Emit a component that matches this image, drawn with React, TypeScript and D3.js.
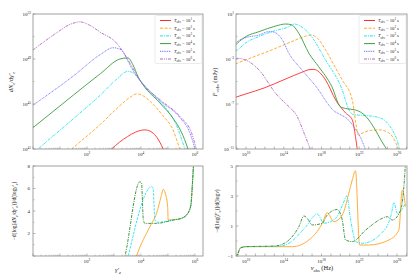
import React from 'react';
import * as d3 from 'd3';

// ---------- data (log10 values) ----------
const tobsExponents = [1, 2, 3, 4, 5, 6];

// top-left: [log10 gamma'_e, log10 dN/dgamma]
const nRed = [[2.8, 40.8], [2.91, 41], [3.2, 41.6], [3.5, 42.1], [3.8, 42.5], [4.15, 42.7], [4.4, 42.5], [4.6, 42.0], [4.82, 41], [4.9, 40.5]];
const nOrange = [[1.3, 40.7], [1.44, 41], [2.5, 43.2], [3.2, 44.8], [3.6, 45.6], [3.85, 45.9], [4.1, 45.7], [4.4, 45.1], [4.8, 44.0], [5.19, 42.7], [5.44, 41], [5.5, 40.6]];
const nCyan = [[0.05, 40.7], [0.19, 41], [1.5, 43.7], [2.5, 45.8], [3.1, 47.2], [3.52, 47.9], [3.8, 47.6], [4.0, 47.0], [4.5, 45.7], [5.0, 44.4], [5.3, 43.2], [5.63, 41], [5.7, 40.5]];
const nGreen = [[0, 42.9], [1.5, 45.8], [2.5, 47.7], [3.22, 49.0], [3.52, 49.1], [3.7, 48.5], [3.9, 47.4], [4.08, 46.7], [4.7, 45.1], [5.2, 43.7], [5.5, 42.5], [5.74, 41], [5.8, 40.5]];
const nBlue = [[0, 44.9], [1.5, 47.5], [2.5, 49.4], [2.97, 50.0], [3.28, 49.8], [3.52, 48.8], [3.7, 48.0], [4.22, 46.4], [4.7, 45.3], [5.44, 43.8], [5.8, 42.5], [6.0, 41], [6.05, 40.5]];
const nPurple = [[0, 49.8], [0.8, 51.2], [1.4, 52.1], [1.74, 52.3], [2.1, 52.0], [2.48, 51.4], [3.1, 50.4], [3.4, 49.4], [3.7, 48.2], [3.96, 47.1], [4.7, 45.4], [5.44, 43.9], [5.88, 42.4], [6.05, 41], [6.1, 40.5]];

// top-right: [log10 nu, log10 F]
const fRed = [[8.9, -6.4], [10, -6.1], [12, -5.55], [14, -4.85], [16, -4.15], [16.67, -3.95], [17.2, -3.92], [17.8, -4.2], [18.44, -4.87], [19.5, -6.64], [20.56, -7.8], [21.26, -8.4], [21.6, -9.9], [21.8, -11.1]];
const fOrange = [[8.9, -3.45], [9.08, -3.38], [11, -2.75], [13, -2.1], [15, -1.4], [16.2, -1.0], [16.9, -0.87], [17.5, -1.1], [18.44, -2.2], [19.3, -3.5], [20.2, -4.87], [21.26, -6.64], [21.6, -8.5], [21.9, -9.75], [22.3, -9.6], [23.2, -9.35], [24.1, -9.3], [25.0, -9.5], [25.6, -10.0], [26.2, -11.1]];
const fCyan = [[8.9, -2.3], [9.08, -2.2], [10, -1.55], [11.38, -1.0], [13, -0.5], [14.55, -0.13], [15.1, 0.11], [15.6, 0.0], [16.67, -0.72], [18.44, -3.1], [20.2, -5.76], [20.9, -7.5], [21.4, -7.95], [22.3, -8.0], [23.03, -8.05], [24.4, -8.3], [25.0, -8.7], [25.5, -9.3], [26.0, -10.2], [26.3, -11.1]];
const fGreen = [[8.9, -1.75], [9.08, -1.6], [10, -1.0], [11.38, -0.57], [13.14, -0.07], [14.2, 0.11], [14.8, 0.05], [15.6, -0.72], [16.67, -2.5], [17.7, -3.68], [19.1, -5.46], [20.0, -7.24], [20.55, -7.4], [21.6, -7.53], [22.7, -8.1], [23.7, -9.3], [24.3, -10.2], [24.97, -11.1]];
const fBlue = [[8.9, -1.6], [9.08, -1.46], [10, -1.1], [11.38, -0.87], [12.4, -0.57], [12.9, -0.6], [13.85, -1.3], [14.55, -2.5], [15.96, -4.0], [17.7, -5.76], [18.6, -6.9], [19.3, -7.6], [19.9, -7.9], [20.7, -8.3], [21.4, -9.0], [22.2, -10.1], [22.68, -11.1]];
const fPurple = [[8.9, -3.0], [9.08, -2.94], [10, -3.1], [11.38, -3.98], [13.14, -6.05], [14.9, -7.53], [15.2, -7.8], [16.3, -9.9], [16.85, -11.1]];

// bottom-left: [log10 gamma'_e, slope]
const sOrange = [[3.8, -0.3], [3.84, 0], [4.33, 2.6], [4.58, 3.8], [4.75, 5.3], [4.83, 5.93], [4.9, 5.6], [4.99, 4.4], [5.01, 3.2], [5.2, 3.22], [5.5, 3.35], [5.69, 3.64], [5.85, 4.5], [5.91, 6.5], [5.95, 8.2]];
const sCyan = [[3.5, -0.3], [3.53, 0], [4.4, 6.16], [4.45, 6.0], [4.52, 3.2], [4.6, 3.0], [5.2, 3.2], [5.5, 3.35], [5.69, 3.64], [5.85, 4.5], [5.91, 6.5], [5.95, 8.2]];
const sGreen = [[3.38, -0.3], [3.41, 0], [3.96, 6.6], [4.02, 6.5], [4.09, 3.2], [4.15, 2.9], [4.58, 2.9], [5.2, 3.2], [5.5, 3.35], [5.69, 3.64], [5.85, 4.5], [5.91, 6.5], [5.95, 8.2]];

// bottom-right: [log10 nu, spectral slope]
const bGreen = [[9.0, -1.2], [9.08, -1.0], [9.44, -0.45], [9.97, -0.38], [13.14, -0.33], [14.55, 0.07], [15.6, 0.95], [16.14, 1.67], [16.5, 1.5], [17.02, 1.07], [18.08, 1.18], [18.6, 1.73], [19.67, 2.1], [20.2, 1.4], [20.55, 0.07], [21.26, -0.04], [22.68, 0.73], [24.44, 1.51], [24.97, 1.62], [25.5, 1.4], [26.39, 2.07], [26.7, 3.4], [26.9, 5.2]];
const bCyan = [[9.0, -1.2], [9.08, -1.0], [9.44, -0.45], [9.97, -0.38], [13.5, -0.35], [14.55, -0.15], [16.33, 0.95], [17.55, 1.8], [18.26, 1.18], [19.5, 1.51], [20.3, 2.5], [20.67, 3.0], [21.09, 1.4], [21.62, -0.04], [22.32, -0.15], [24.8, 0.84], [25.4, 1.8], [25.68, 2.56], [26.03, 1.84], [26.9, 2.5]];
const bOrange = [[9.0, -1.2], [9.08, -1.0], [9.44, -0.45], [9.97, -0.38], [14.9, -0.38], [16.67, 0.07], [18.08, 1.18], [18.6, 1.89], [19.3, 1.29], [20.2, 1.73], [20.9, 3.2], [21.26, 4.07], [21.6, 4.69], [22.04, -0.27], [23.0, -0.27], [25.15, 0.07], [26.2, 0.73], [26.56, 3.4], [26.9, 2.3]];

// tick labels
const tlXLabels = [2, 4, 6];
const tlYLabels = [41, 45, 49, 53];
const trXLabels = [10, 14, 18, 22, 26];
const trYLabels = [-11, -7, -3, 1];
const blYLabels = [2, 4, 6, 8];
const brYLabels = [-1, 1, 3, 5];

// ---------- styles ----------
const C = { red: '#ff2b2b', orange: '#ffa51f', cyan: '#1ee4ee', green: '#3c9c3c', dgreen: '#2e8b2e', blue: '#6666ff', purple: '#b064c0' };
const SER = "'Liberation Serif','DejaVu Serif',serif";
const AX = '#8a8a8a';
const TXT = '#222';

type Seg = [string, string?];
function Rich({ x, y, fs, anchor = 'start', rotate = 0, segs }: any) {
  let cur = 0;
  const spans = (segs as Seg[]).map(([t, k = ''], i) => {
    const isSub = k.includes('sub');
    const isSup = k.includes('sup');
    const target = isSub ? fs * 0.3 : isSup ? -fs * 0.42 : 0;
    const dy = target - cur;
    cur = target;
    return (
      <tspan key={i} dy={dy} fontSize={isSub || isSup ? fs * 0.68 : fs} fontStyle={k.includes('i') ? 'italic' : 'normal'}>
        {t}
      </tspan>
    );
  });
  return (
    <text x={x} y={y} transform={rotate ? `rotate(${rotate},${x},${y})` : undefined} textAnchor={anchor} fontSize={fs} fontFamily={SER} fill={TXT}>
      {spans}
    </text>
  );
}

function Pow({ x, y, e, anchor }: any) {
  return <Rich x={x} y={y} fs={5} anchor={anchor} segs={[['10'], [String(e).replace('-', '−'), 'sup']]} />;
}

type Series = { pts: number[][]; color: string; dash?: string; w?: number };

function Panel({ id, x0, x1, y0, y1, yLog, xDom, yDom, xLabels, xMajor, xMinor, yLabels, yMinor, yLinLabels = [], series }: any) {
  const xs = d3.scaleLog().domain(xDom.map((e: number) => Math.pow(10, e))).range([x0, x1]);
  const ys: any = yLog
    ? d3.scaleLog().domain(yDom.map((e: number) => Math.pow(10, e))).range([y1, y0])
    : d3.scaleLinear().domain(yDom).range([y1, y0]);
  const yv = (v: number) => (yLog ? ys(Math.pow(10, v)) : ys(v));
  const line = d3
    .line<number[]>()
    .x((d) => xs(Math.pow(10, d[0])))
    .y((d) => yv(d[1]))
    .curve(d3.curveMonotoneX);
  return (
    <g>
      <defs>
        <clipPath id={id}>
          <rect x={x0} y={y0} width={x1 - x0} height={y1 - y0} />
        </clipPath>
      </defs>
      <g clipPath={`url(#${id})`}>
        {(series as Series[]).map((s, i) => (
          <path key={i} d={line(s.pts as any) || ''} fill="none" stroke={s.color} strokeWidth={s.w ?? 0.9} strokeDasharray={s.dash} />
        ))}
      </g>
      {(xMajor as number[]).map((e) => (
        <line key={'xm' + e} x1={xs(Math.pow(10, e))} x2={xs(Math.pow(10, e))} y1={y1} y2={y1 - 2.5} stroke={AX} strokeWidth={0.6} />
      ))}
      {xMinor &&
        (xMajor as number[]).flatMap((e) =>
          [2, 3, 4, 5, 6, 7, 8, 9].map((k) => {
            const v = k * Math.pow(10, e);
            const px = xs(v);
            if (px > x1 || px < x0) return null;
            return <line key={'xn' + e + '_' + k} x1={px} x2={px} y1={y1} y2={y1 - 1.3} stroke={AX} strokeWidth={0.5} />;
          })
        )}
      {(xLabels as number[]).map((e) => (
        <Pow key={'xl' + e} x={xs(Math.pow(10, e))} y={y1 + 7} e={e} anchor="middle" />
      ))}
      {(yLabels as number[]).map((v) => (
        <line key={'yt' + v} x1={x0} x2={x0 + 2.5} y1={yv(v)} y2={yv(v)} stroke={AX} strokeWidth={0.6} />
      ))}
      {(yMinor as number[]).map((v) => (
        <line key={'yn' + v} x1={x0} x2={x0 + 1.5} y1={yv(v)} y2={yv(v)} stroke={AX} strokeWidth={0.5} />
      ))}
      {(yLabels as number[]).map((v) =>
        yLog ? (
          <Pow key={'yl' + v} x={x0 - 2} y={yv(v) + 1.8} e={v} anchor="end" />
        ) : yLinLabels.includes(v) ? (
          <text key={'yl' + v} x={x0 - 3} y={yv(v) + 1.8} fontSize={5} textAnchor="end" fontFamily={SER} fill={TXT}>
            {String(v).replace('-', '−')}
          </text>
        ) : null
      )}
      <rect x={x0} y={y0} width={x1 - x0} height={y1 - y0} fill="none" stroke={AX} strokeWidth={0.8} />
    </g>
  );
}

function Legend({ x, y, items }: any) {
  return (
    <g>
      <rect x={x} y={y} width={47} height={48} rx={1.5} fill="white" fillOpacity={0.85} stroke="#d6d6d6" strokeWidth={0.5} />
      {(items as Series[]).map((s, i) => {
        const yy = y + 5 + i * 7.7;
        return (
          <g key={i}>
            <line x1={x + 5} x2={x + 16} y1={yy} y2={yy} stroke={s.color} strokeWidth={1} strokeDasharray={s.dash} />
            <Rich x={x + 19} y={yy + 1.5} fs={4.6} segs={[['T', 'i'], ['obs', 'isub'], [' = 10'], [String(tobsExponents[i]), 'sup'], [' s']]} />
          </g>
        );
      })}
    </g>
  );
}

export default function App() {
  const dashes = { orange: '3,1.6', cyan: '3,1,1,1', blue: '1,0.8', purple: '3,1,1,1,1,1' };
  const topN: Series[] = [
    { pts: nRed, color: C.red },
    { pts: nOrange, color: C.orange, dash: dashes.orange },
    { pts: nCyan, color: C.cyan, dash: dashes.cyan },
    { pts: nGreen, color: C.green },
    { pts: nBlue, color: C.blue, dash: dashes.blue },
    { pts: nPurple, color: C.purple, dash: dashes.purple },
  ];
  const topF: Series[] = [
    { pts: fRed, color: C.red },
    { pts: fOrange, color: C.orange, dash: dashes.orange },
    { pts: fCyan, color: C.cyan, dash: dashes.cyan },
    { pts: fGreen, color: C.green },
    { pts: fBlue, color: C.blue, dash: dashes.blue },
    { pts: fPurple, color: C.purple, dash: dashes.purple },
  ];
  const botN: Series[] = [
    { pts: sOrange, color: C.orange },
    { pts: sCyan, color: C.cyan, dash: '2.5,1.2' },
    { pts: sGreen, color: C.dgreen, dash: '3,1,1,1' },
  ];
  const botF: Series[] = [
    { pts: bOrange, color: C.orange },
    { pts: bCyan, color: C.cyan, dash: '3,1,1,1' },
    { pts: bGreen, color: C.dgreen, dash: '3,1,1,1' },
  ];
  const range = (a: number, b: number) => d3.range(a, b + 1);
  return (
    <svg width={419} height={279} style={{ position: 'absolute', left: 0, top: 0, background: 'white' }}>
      <rect width={419} height={279} fill="white" />
      <Panel id="c1" x0={33} x1={203} y0={14} y1={149} yLog xDom={[0, 6.3]} yDom={[41, 53]}
        xLabels={tlXLabels} xMajor={range(0, 6)} xMinor yLabels={tlYLabels} yMinor={[43, 47, 51]} series={topN} />
      <Panel id="c2" x0={236} x1={407} y0={14} y1={149} yLog xDom={[8.94, 27.06]} yDom={[-11, 1]}
        xLabels={trXLabels} xMajor={range(9, 27)} yLabels={trYLabels} yMinor={[-9, -5, -1]} series={topF} />
      <Panel id="c3" x0={33} x1={203} y0={166} y1={256} xDom={[0, 6.3]} yDom={[0, 8]}
        xLabels={tlXLabels} xMajor={range(0, 6)} xMinor yLabels={[0, ...blYLabels]} yLinLabels={blYLabels} yMinor={[1, 3, 5, 7]} series={botN} />
      <Panel id="c4" x0={236} x1={407} y0={166} y1={256} xDom={[8.94, 27.06]} yDom={[-1, 5]}
        xLabels={trXLabels} xMajor={range(9, 27)} yLabels={brYLabels} yLinLabels={brYLabels} yMinor={[0, 2, 4]} series={botF} />

      <Legend x={155} y={15.5} items={topN} />
      <Legend x={359} y={15.5} items={topF} />

      <Rich x={13} y={82} fs={6.5} rotate={-90} anchor="middle" segs={[['dN', 'i'], ['e', 'isub'], ['/d'], ['γ′', 'i'], ['e', 'isub']]} />
      <Rich x={217} y={82} fs={6.5} rotate={-90} anchor="middle" segs={[['F', 'i'], ['ν', 'isub'], ['obs', 'sub'], [' (mJy)']]} />
      <Rich x={16} y={211} fs={5.6} rotate={-90} anchor="middle"
        segs={[['−d[log('], ['dN', 'i'], ['e', 'isub'], ['/d'], ['γ′', 'i'], ['e', 'isub'], [')]/d(log'], ['γ′', 'i'], ['e', 'isub'], [')']]} />
      <Rich x={219} y={211} fs={5.6} rotate={-90} anchor="middle"
        segs={[['−d[log('], ['F', 'i'], ['ν', 'isub'], [')]/d(log'], ['ν', 'i'], [')']]} />
      <Rich x={118} y={272} fs={6.5} anchor="middle" segs={[['γ′', 'i'], ['e', 'isub']]} />
      <Rich x={322} y={270} fs={6.5} anchor="middle" segs={[['ν', 'i'], ['obs', 'sub'], [' (Hz)']]} />
    </svg>
  );
}
